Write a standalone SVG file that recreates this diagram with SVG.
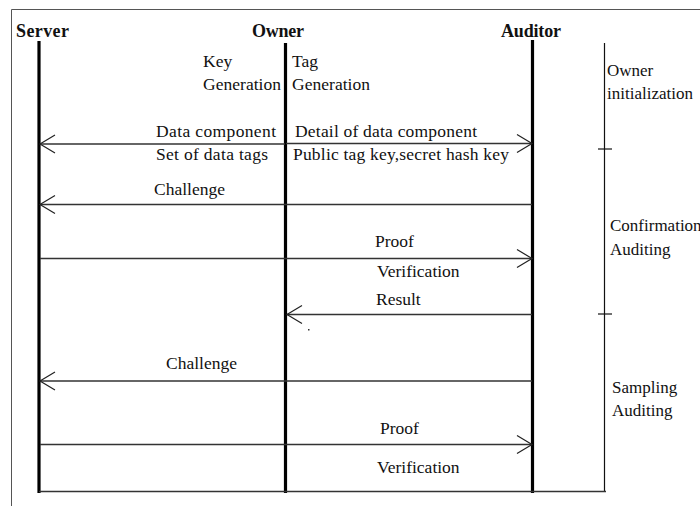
<svg xmlns="http://www.w3.org/2000/svg" width="700" height="506" viewBox="0 0 700 506">
  <style>
    text { font-family: "Liberation Serif", "Times New Roman", serif; font-size: 17.5px; fill: #111; }
    .hdr { font-weight: bold; font-size: 18px; }
    .side { font-size: 17px; }
    .life { stroke: #000; stroke-width: 3.2; fill: none; }
    .msg { stroke: #333; stroke-width: 1.5; fill: none; }
    .phase { stroke: #111; stroke-width: 1.2; fill: none; }
  </style>
  <defs>
    <marker id="open" markerUnits="userSpaceOnUse" viewBox="0 0 20 24" markerWidth="20" markerHeight="24" refX="17" refY="12" orient="auto">
      <path d="M2,3 L17,12 L2,21" fill="none" stroke="#222" stroke-width="1.2"/>
    </marker>
  </defs>

  <rect width="700" height="506" fill="#fff"/>
  <!-- outer frame -->
  <path d="M11.5,506 V9.5 H700" fill="none" stroke="#555" stroke-width="1"/>

  <g id="server">
    <text class="hdr" x="16" y="37" textLength="53">Server</text>
    <line class="life" x1="39" y1="41" x2="39" y2="493"/>
  </g>

  <g id="owner">
    <text class="hdr" x="252" y="37" textLength="52">Owner</text>
    <line class="life" x1="285.5" y1="43" x2="285.5" y2="493"/>
    <text x="203" y="67">Key</text>
    <text x="203" y="90" textLength="78">Generation</text>
    <text x="292" y="67">Tag</text>
    <text x="292" y="90" textLength="78">Generation</text>
  </g>

  <g id="auditor">
    <text class="hdr" x="501" y="37" textLength="60">Auditor</text>
    <line class="life" x1="532.5" y1="40" x2="532.5" y2="493"/>
  </g>

  <g id="phases">
    <line class="phase" x1="604.5" y1="43" x2="604.5" y2="492"/>
    <line class="phase" x1="598" y1="149" x2="612" y2="149"/>
    <line class="phase" x1="598" y1="314" x2="612" y2="314"/>
    <text class="side" x="607" y="76">Owner</text>
    <text class="side" x="607" y="99">initialization</text>
    <text class="side" x="610" y="231">Confirmation</text>
    <text class="side" x="610" y="255">Auditing</text>
    <text class="side" x="612" y="393">Sampling</text>
    <text class="side" x="612" y="416">Auditing</text>
  </g>

  <g id="connectors">
    <!-- owner initialization -->
    <line class="msg" x1="285" y1="144" x2="40" y2="144" marker-end="url(#open)"/>
    <line class="msg" x1="286" y1="143.5" x2="532" y2="143.5" marker-end="url(#open)"/>
    <!-- confirmation auditing -->
    <line class="msg" x1="532" y1="204.5" x2="40" y2="204.5" marker-end="url(#open)"/>
    <line class="msg" x1="40" y1="258.5" x2="532" y2="258.5" marker-end="url(#open)"/>
    <line class="msg" x1="532" y1="314.5" x2="287" y2="314.5" marker-end="url(#open)"/>
    <!-- sampling auditing -->
    <line class="msg" x1="532" y1="381" x2="40" y2="381" marker-end="url(#open)"/>
    <line class="msg" x1="40" y1="444.5" x2="532" y2="444.5" marker-end="url(#open)"/>
    <!-- closing line -->
    <line class="msg" x1="39" y1="491.5" x2="606" y2="491.5"/>
  </g>

  <g id="labels">
    <text x="156" y="137" textLength="120">Data component</text>
    <text x="156" y="160" textLength="112">Set of data tags</text>
    <text x="295" y="137" textLength="182">Detail of data component</text>
    <text x="293" y="160" textLength="216">Public tag key,secret hash key</text>
    <text x="154" y="195">Challenge</text>
    <text x="375" y="247">Proof</text>
    <text x="377" y="277">Verification</text>
    <text x="376" y="305">Result</text>
    <text x="166" y="369">Challenge</text>
    <text x="380" y="434">Proof</text>
    <text x="377" y="473">Verification</text>
  </g>
  <rect x="308" y="329" width="1.5" height="1.5" fill="#333"/>
</svg>
